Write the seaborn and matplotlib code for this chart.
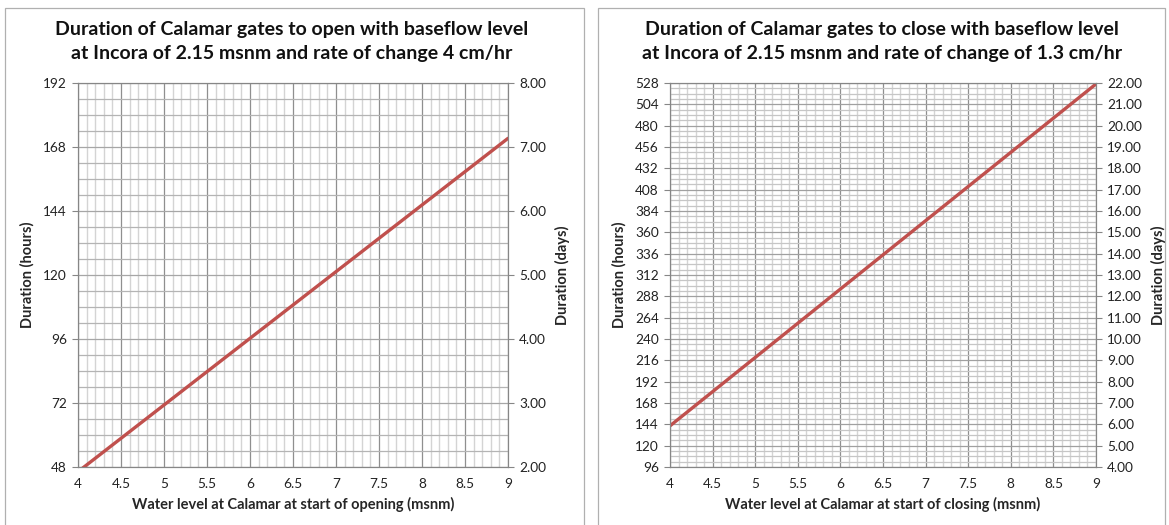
import matplotlib
matplotlib.use("Agg")
import matplotlib.pyplot as plt
import seaborn as sns
import numpy as np
import pandas as pd
from matplotlib.patches import Rectangle
from matplotlib.ticker import MultipleLocator, FormatStrFormatter

# ---- data ----
level = [4, 5, 6, 7, 8, 9]
open_hours = [46.25, 71.25, 96.25, 121.25, 146.25, 171.25]
close_hours = [142.3, 219.2, 296.2, 373.1, 450.0, 526.9]

open_title = "Duration of Calamar gates to open with baseflow level\nat Incora of 2.15 msnm and rate of change 4 cm/hr"
close_title = "Duration of Calamar gates to close with baseflow level\nat Incora of 2.15 msnm and rate of change of 1.3 cm/hr"
open_xlabel = "Water level at Calamar at start of opening (msnm)"
close_xlabel = "Water level at Calamar at start of closing (msnm)"
ylabel_hours = "Duration (hours)"
ylabel_days = "Duration (days)"

sns.set_style("white")
plt.rcParams['font.family'] = ['Lato', 'DejaVu Sans']

W, H = 1169, 525
fig = plt.figure(figsize=(W / 100, H / 100), dpi=100)

LINE = "#c0504d"
AX = "#868686"


def px_axes(x0, x1, ytop, ybot):
    return fig.add_axes([x0 / W, 1 - ybot / H, (x1 - x0) / W, (ybot - ytop) / H])


def make_chart(ax, hours, ymin, ymax, title, xlabel, ymaj_col, ymin_col, cx):
    df = pd.DataFrame({"level": level, "hours": hours})
    ax.set_xlim(4, 9)
    ax.set_ylim(ymin, ymax)
    ax.xaxis.set_major_locator(MultipleLocator(0.5))
    ax.xaxis.set_minor_locator(MultipleLocator(0.1))
    ax.yaxis.set_major_locator(MultipleLocator(24))
    ax.yaxis.set_minor_locator(MultipleLocator(6))
    ax.xaxis.set_major_formatter(matplotlib.ticker.FuncFormatter(lambda v, p: f"{v:g}"))
    ax.grid(which="major", axis="x", color="#8f8f8f", lw=0.9)
    ax.grid(which="minor", axis="x", color="#d4d4d4", lw=1.0)
    ax.grid(which="major", axis="y", color=ymaj_col, lw=0.9)
    ax.grid(which="minor", axis="y", color=ymin_col, lw=0.9)
    ax.set_axisbelow(True)
    sns.lineplot(data=df, x="level", y="hours", ax=ax, color=LINE, lw=2.4, clip_on=True)
    for s in ax.spines.values():
        s.set_color(AX)
        s.set_linewidth(0.8)
    ax.tick_params(axis="both", which="major", length=4, color=AX, labelsize=9.8,
                   labelcolor="#222222", direction="out", pad=4)
    ax.tick_params(axis="y", which="minor", length=0)
    ax.tick_params(axis="x", which="minor", length=0)
    ax.set_xlabel(xlabel, fontsize=10.5, fontweight="bold", labelpad=5)
    ax.set_ylabel(ylabel_hours, fontsize=10.5, fontweight="bold", labelpad=6)
    fig.text(cx / W, 1 - 42 / H, title, ha="center", va="center",
             fontsize=14, fontweight="bold", linespacing=1.5, color="#111111")

    ax2 = ax.twinx()
    ax2.set_ylim(ymin / 24, ymax / 24)
    ax2.yaxis.set_major_locator(MultipleLocator(1))
    ax2.yaxis.set_major_formatter(FormatStrFormatter("%.2f"))
    ax2.tick_params(axis="y", length=4, color=AX, labelsize=9.8, labelcolor="#222222", pad=4)
    for s in ax2.spines.values():
        s.set_color(AX)
        s.set_linewidth(0.8)
    ax2.set_ylabel(ylabel_days, fontsize=10.5, fontweight="bold", labelpad=6)
    ax2.grid(False)
    return ax, ax2


ax1 = px_axes(78, 508, 83, 467)
make_chart(ax1, open_hours, 48, 192, open_title, open_xlabel, "#a6a6a6", "#b4b4b4", 292)

ax3 = px_axes(670, 1096, 83, 467)
make_chart(ax3, close_hours, 96, 528, close_title, close_xlabel, "#a0a0a0", "#c6c6c6", 882)

# chart borders
fig.add_artist(Rectangle((5 / W, -0.05), (584 - 5) / W, 1.05 - 8 / H, transform=fig.transFigure,
                         fill=False, edgecolor="#b0b0b0", lw=0.9))
fig.add_artist(Rectangle((598 / W, -0.05), (1165 - 598) / W, 1.05 - 8 / H, transform=fig.transFigure,
                         fill=False, edgecolor="#b0b0b0", lw=0.9))

fig.savefig("out.png", dpi=100)
